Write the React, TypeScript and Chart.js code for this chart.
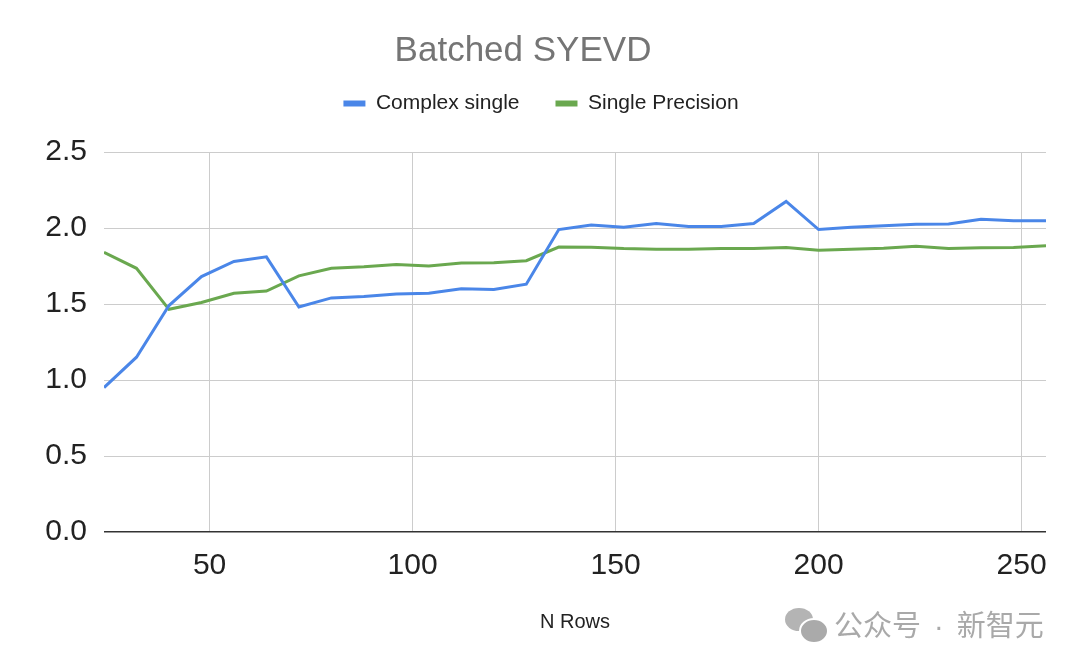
import { useEffect, useRef } from 'react';
import Chart from 'chart.js/auto';

// N rows (x), sampled every 8 from 24 to 256
const nRows = [
  24, 32, 40, 48, 56, 64, 72, 80, 88, 96, 104, 112, 120, 128, 136,
  144, 152, 160, 168, 176, 184, 192, 200, 208, 216, 224, 232, 240, 248, 256,
];

const complexSingle = [
  0.95, 1.15, 1.49, 1.68, 1.78, 1.81, 1.48, 1.54, 1.55, 1.565, 1.57, 1.6, 1.595, 1.63, 1.99,
  2.02, 2.005, 2.03, 2.01, 2.01, 2.03, 2.175, 1.99, 2.005, 2.015, 2.025, 2.027, 2.057, 2.047, 2.048,
];

const singlePrecision = [
  1.84, 1.735, 1.465, 1.51, 1.57, 1.585, 1.685, 1.735, 1.745, 1.76, 1.75, 1.77, 1.772, 1.785, 1.875,
  1.874, 1.865, 1.861, 1.861, 1.865, 1.865, 1.872, 1.854, 1.861, 1.866, 1.88, 1.865, 1.87, 1.872, 1.883,
];

const seriesLabels = ['Complex single', 'Single Precision'];
const seriesColors = ['#4a86e8', '#6aa84f'];

const FONT = "'Liberation Sans', Arial, sans-serif";
const LEGEND_PAD = 36;

export default function App() {
  const canvasRef = useRef<HTMLCanvasElement | null>(null);
  const chartRef = useRef<Chart | null>(null);

  useEffect(() => {
    document.body.style.margin = '0';
    const canvas = canvasRef.current;
    if (!canvas) return;

    // extra room under the legend, and drop the trailing item padding so it centres
    const legendGap = {
      id: 'legendGap',
      beforeInit(chart: any) {
        const legend = chart.legend;
        if (!legend) return;
        const fit = legend.fit;
        legend.fit = function () {
          fit.call(this);
          this.height += 28;
          if (this.lineWidths) this.lineWidths = this.lineWidths.map((w: number) => w - LEGEND_PAD);
        };
      },
    };

    chartRef.current = new Chart(canvas, {
      type: 'line',
      data: {
        datasets: [
          {
            label: seriesLabels[0],
            data: nRows.map((x, i) => ({ x, y: complexSingle[i] })),
            borderColor: seriesColors[0],
            backgroundColor: seriesColors[0],
            borderWidth: 3,
            pointRadius: 0,
            tension: 0,
          },
          {
            label: seriesLabels[1],
            data: nRows.map((x, i) => ({ x, y: singlePrecision[i] })),
            borderColor: seriesColors[1],
            backgroundColor: seriesColors[1],
            borderWidth: 3,
            pointRadius: 0,
            tension: 0,
          },
        ],
      },
      options: {
        responsive: false,
        animation: false,
        layout: { padding: { left: 0, right: 34, top: 0, bottom: 0 } },
        plugins: {
          title: {
            display: true,
            text: 'Batched SYEVD',
            color: '#757575',
            font: { family: FONT, size: 35, weight: 'normal', lineHeight: 1 },
            padding: { top: 34, bottom: -12 },
          },
          legend: {
            position: 'top',
            labels: {
              boxWidth: 22,
              boxHeight: 6,
              padding: LEGEND_PAD,
              color: '#222',
              font: { family: FONT, size: 21 },
              generateLabels: (chart: any) =>
                Chart.defaults.plugins.legend.labels
                  .generateLabels(chart)
                  .map((item: any) => ({ ...item, lineWidth: 0 })),
            },
          },
          tooltip: { enabled: false },
        },
        scales: {
          x: {
            type: 'linear',
            min: 24,
            max: 256,
            ticks: {
              stepSize: 50,
              includeBounds: false,
              maxRotation: 0,
              padding: 16,
              color: '#222',
              font: { family: FONT, size: 30 },
            },
            grid: { color: '#cccccc', drawTicks: false },
            border: { display: false },
            title: {
              display: true,
              text: 'N Rows',
              color: '#222',
              font: { family: FONT, size: 20 },
              padding: { top: 0, bottom: 34 },
            },
            afterFit: (scale: any) => {
              scale.height = 136;
            },
          },
          y: {
            min: 0,
            max: 2.5,
            ticks: {
              stepSize: 0.5,
              padding: 17,
              color: '#222',
              font: { family: FONT, size: 30 },
              callback: (v) => Number(v).toFixed(1),
            },
            grid: {
              color: (ctx: any) => (ctx.tick && ctx.tick.value === 0 ? '#333333' : '#cccccc'),
              lineWidth: (ctx: any) => (ctx.tick && ctx.tick.value === 0 ? 1.5 : 1),
              drawTicks: false,
            },
            border: { display: false },
            afterFit: (scale: any) => {
              scale.width = 104;
            },
          },
        },
      },
      plugins: [legendGap],
    });

    return () => {
      if (chartRef.current) {
        chartRef.current.destroy();
        chartRef.current = null;
      }
    };
  }, []);

  return (
    <div style={{ position: 'relative', width: 1080, height: 668, background: '#fff' }}>
      <canvas ref={canvasRef} width={1080} height={668} style={{ display: 'block' }} />
      <div style={{ position: 'absolute', left: 785, top: 608, width: 42, height: 34 }}>
        <div style={{ position: 'absolute', left: 0, top: 0, width: 28, height: 23, borderRadius: '50%', background: '#b4b4b4' }} />
        <div style={{ position: 'absolute', left: 14, top: 10, width: 26, height: 22, borderRadius: '50%', background: '#aaaaaa', border: '2px solid #fff' }} />
      </div>
      <div
        style={{
          position: 'absolute',
          left: 834,
          top: 608,
          fontFamily: "'Noto Sans CJK SC', sans-serif",
          fontSize: 29,
          lineHeight: '31px',
          color: '#a9a9a9',
          whiteSpace: 'nowrap',
        }}
      >
        公众号<span style={{ fontFamily: "'Liberation Sans', sans-serif", margin: '0 13px' }}>·</span>新智元
      </div>
    </div>
  );
}
